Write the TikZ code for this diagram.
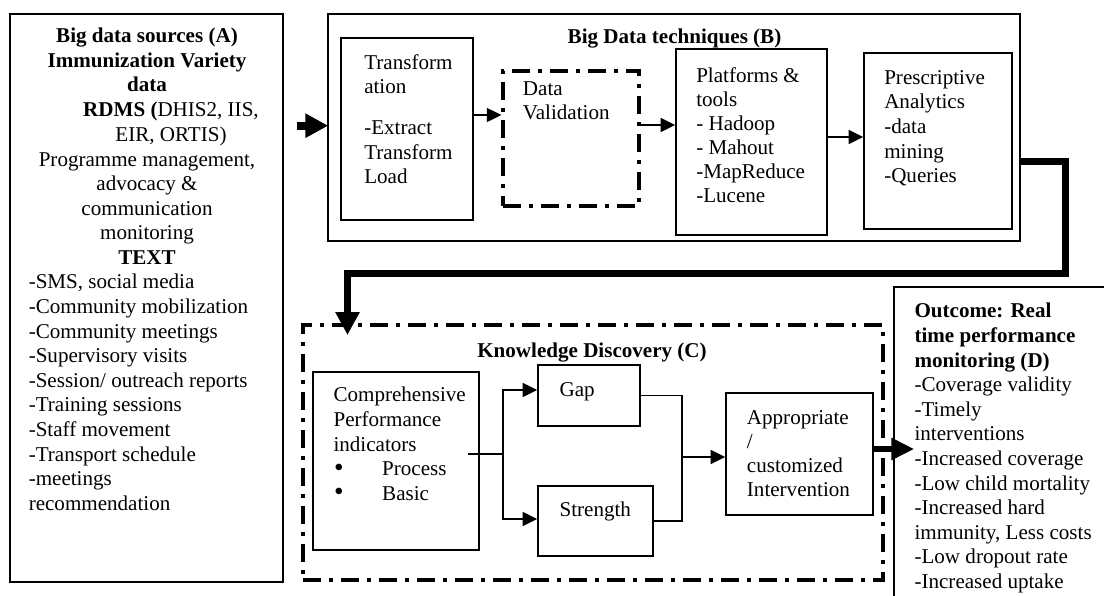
\documentclass[tikz,border=0pt]{standalone}
\usepackage{fontspec}
\setmainfont{Liberation Serif}
\usetikzlibrary{arrows.meta,fit}
\newcommand{\bigbul}{\smash{\raisebox{-0.3pt}{\scalebox{1.3}{\textbullet}}}}
\begin{document}
\begin{tikzpicture}[x=0.75pt,y=-0.75pt,
  box/.style={draw,line width=1.1pt,inner sep=0pt},
  ddbox/.style={draw,line width=2.3pt,inner sep=0pt,dash pattern=on 13.5pt off 6pt on 3pt off 6pt},
  txt/.style={inner sep=0pt,font=\fontsize{15.8pt}{18.45pt}\selectfont},
  txtb/.style={inner sep=0pt,font=\fontsize{15.8pt}{18pt}\selectfont},
  tline/.style={line width=1.1pt},
  tarrow/.style={line width=1.1pt,-{Triangle[length=11pt,width=10.5pt]}},
  barrow/.style={line width=6pt,-{Triangle[length=17.25pt,width=17.25pt]}},
  darrow/.style={line width=4.9pt,-{Triangle[length=17.25pt,width=15.75pt]}},
  carrow/.style={line width=5.25pt,-{Triangle[length=17.25pt,width=17.25pt]}}]
\useasboundingbox (0,0) rectangle (1104,596);

% ---------- boxes ----------
\node[box,fit={(10,14) (283,582)}] (A) {};
\node[box,fit={(328,14) (1020,241)}] (B) {};
\node[box,fit={(341,38) (473,220)}] (T) {};
\node[ddbox,fit={(503,71) (639,206)}] (DV) {};
\node[box,fit={(676,49) (827,235)}] (P) {};
\node[box,fit={(864,53) (1012,229)}] (Pr) {};
\node[ddbox,fit={(303,325) (883,580)}] (C) {};
\node[box,fit={(313,372) (479,550)}] (CPI) {};
\node[box,fit={(538,365) (640,426)}] (Gap) {};
\node[box,fit={(538,486) (653,556)}] (St) {};
\node[box,fit={(726,393) (873,515)}] (Ap) {};
\node[box,fit={(894,287) (1140,630)}] (D) {};

% ---------- texts ----------
\node[txt,anchor=north,align=center] (Atitle) at (147,25.3)
  {\strut\textbf{Big data sources (A)}\\\textbf{Immunization Variety}\\\textbf{data}};
\node[txt,anchor=north,align=center] (Ardms) at (171,99.4)
  {\strut\textbf{RDMS (}DHIS2, IIS,\\EIR, ORTIS)};
\node[txt,anchor=north,align=center] (Aprog) at (147,148.6)
  {\strut Programme management,\\advocacy \&\\communication\\monitoring\\\textbf{TEXT}};
\node[txt,anchor=north west,align=left] (Alist) at (28.5,271.5)
  {\strut -SMS, social media\\-Community mobilization\\-Community meetings\\-Supervisory visits\\-Session/ outreach reports\\-Training sessions\\-Staff movement\\-Transport schedule\\-meetings\\recommendation};

\node[txt,anchor=base] (Btitle) at (674.5,43.5) {\textbf{Big Data techniques (B)}};
\node[txt,anchor=north west,align=left] (Ttext) at (364,51.8)
  {\strut Transform\\ation\\[12.2pt]-Extract\\Transform\\Load};
\node[txt,anchor=north west,align=left] (DVtext) at (522.7,77.8) {\strut Data\\Validation};
\node[txtb,anchor=north west,align=left] (Ptext) at (696,65.2)
  {\strut Platforms \&\\tools\\- Hadoop\\- Mahout\\-MapReduce\\-Lucene};
\node[txt,anchor=north west,align=left] (Prtext) at (884,66.8)
  {\strut Prescriptive\\Analytics\\-data\\mining\\-Queries};

\node[txt,anchor=base] (Ctitle) at (592,357) {\textbf{Knowledge Discovery (C)}};
\node[txt,anchor=north west,align=left] (CPItext) at (333.3,384.5)
  {\strut Comprehensive\\Performance\\indicators\\\hspace*{0.5pt}\makebox[36pt][l]{\bigbul}Process\\\hspace*{0.5pt}\makebox[36pt][l]{\bigbul}Basic};
\node[txt,anchor=base west] (Gaptext) at (559.3,396.7) {Gap};
\node[txt,anchor=base west] (Sttext) at (559.3,516.7) {Strength};
\node[txtb,anchor=north west,align=left] (Aptext) at (746.7,407.9)
  {\strut Appropriate\\/\\customized\\Intervention};
\node[txt,anchor=north west,align=left] (Dtext) at (914.3,300.4)
  {\strut\textbf{Outcome: Real}\\\textbf{time performance}\\\textbf{monitoring (D)}\\-Coverage validity\\-Timely\\interventions\\-Increased coverage\\-Low child mortality\\-Increased hard\\immunity, Less costs\\-Low dropout rate\\-Increased uptake};

% ---------- helper rows ----------
\coordinate (r1) at (0,115);
\coordinate (r2) at (0,125);
\coordinate (r3) at (0,137);
\coordinate (r5) at (0,454);
\coordinate (r6) at (0,390);
\coordinate (r7) at (0,519);
\coordinate (r9) at (0,449);
\coordinate (r10) at (0,125.7);
\coordinate (bout) at (1020,161);
\coordinate (c1) at (1065,161);
\coordinate (c2) at (1065,273.5);
\coordinate (c3) at (347.5,273.5);
\coordinate (cin) at (347.5,335);
\coordinate (sp) at (503,454);
\coordinate (mg) at (682,457);

% ---------- connectors ----------
\draw[barrow,shorten <=9.75pt,shorten >=-0.75pt] (A.east |- r10) -- (B.west |- r10);
\draw[tarrow] (T.east |- r1) -- (DV.west |- r1);
\draw[tarrow] (DV.east |- r2) -- (P.west |- r2);
\draw[tarrow] (P.east |- r3) -- (Pr.west |- r3);
\draw[carrow] (bout) -- (c1) -- (c2) -- (c3) -- (cin);

\draw[tline,shorten <=-9pt] (CPI.east |- r5) -- (sp);
\draw[tarrow] (sp) |- (Gap.west |- r6);
\draw[tarrow] (sp) |- (St.west |- r7);
\draw[tline] (Gap.east) -| (mg) |- (St.east);
\draw[tarrow] (mg) -- (Ap.west |- mg);
\draw[darrow,shorten >=-15.75pt] (Ap.east |- r9) -- (D.west |- r9);
\end{tikzpicture}
\end{document}
